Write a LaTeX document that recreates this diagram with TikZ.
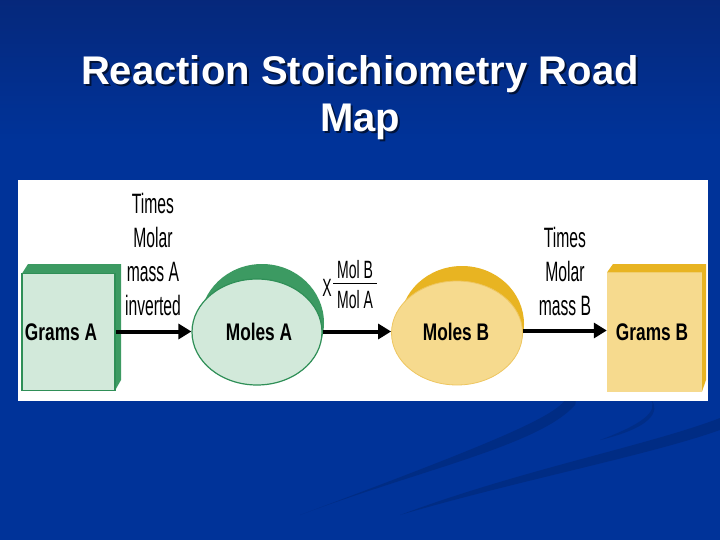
\documentclass[tikz,border=0pt]{standalone}
\usepackage{fontspec}
\setmainfont{Liberation Sans}
\newfontfamily\narrowfont[FakeStretch=0.56]{Liberation Sans}
\newfontfamily\narrowbold[FakeStretch=0.72]{Liberation Sans Bold}
\usetikzlibrary{arrows.meta,shapes.geometric}
\definecolor{bgtop}{HTML}{00081E}
\definecolor{bgmid}{HTML}{082470}
\definecolor{bgbot}{HTML}{003399}
\definecolor{swoosh}{HTML}{00205F}
\definecolor{gdark}{HTML}{3C9A62}
\definecolor{gline}{HTML}{2F8F57}
\definecolor{glight}{HTML}{D2E9DA}
\definecolor{ydark}{HTML}{E8B422}
\definecolor{ylight}{HTML}{F6DA8E}
\definecolor{yline}{HTML}{EEC660}
\pgfdeclareverticalshading{slidebg}{100bp}{color(0bp)=(bgbot); color(62bp)=(bgbot); color(80bp)=(bgmid); color(100bp)=(bgtop)}
\tikzset{
  titletext/.style={font=\bfseries\fontsize{40}{47}\selectfont, align=center, anchor=base},
  steplabel/.style={font=\narrowfont\fontsize{28}{34}\selectfont, align=center, anchor=base, inner sep=0pt},
  fraclabel/.style={font=\narrowfont\fontsize{25}{30}\selectfont, anchor=base, inner sep=0pt},
  boxlabel/.style={font=\narrowbold\fontsize{24}{28}\selectfont, anchor=base, inner sep=0pt},
  conn/.style={line width=4pt, -{Triangle[length=13pt,width=15pt]}},
}
\begin{document}
\begin{tikzpicture}[x=1pt,y=-1pt]
\useasboundingbox (0,0) rectangle (720,540);
\shade[shading=slidebg] (0,0) rectangle (720,540);
% swooshes
\fill[swoosh, opacity=0.35] (300,515) .. controls (420,470) and (540,445) .. (575,405)
  .. controls (578,398) and (572,393) .. (566,392)
  .. controls (575,410) and (500,440) .. (300,515) -- cycle;
\fill[swoosh, opacity=0.35] (400,515) .. controls (520,470) and (650,445) .. (720,418)
  -- (720,430) .. controls (650,455) and (520,480) .. (400,515) -- cycle;
\fill[swoosh, opacity=0.3] (600,440) .. controls (640,425) and (660,412) .. (650,398)
  .. controls (662,412) and (650,428) .. (600,440) -- cycle;
% title (anchor base = baseline of last line)
\node[titletext, text=black, opacity=0.6] at (362,134) {Reaction Stoichiometry Road\\Map};
\node[titletext, text=white] (title) at (360,132) {Reaction Stoichiometry Road\\Map};
% panel
\fill[white] (18,180) rectangle (708,401);
% Grams A box
\fill[gdark] (22,273.5) -- (28,264) -- (121,264) -- (121,380) -- (115,390.5) -- (115,273.5) -- cycle;
\node[draw=gline, line width=1.5pt, fill=glight, minimum width=93pt, minimum height=117pt, inner sep=0pt] (gA) at (68.5,332) {};
% Moles A
\fill[gdark] (262,323) ellipse [x radius=62, y radius=59];
\node[ellipse, draw=gline, line width=1.2pt, fill=glight, minimum width=130pt, minimum height=106pt, inner sep=0pt] (mA) at (257,332) {};
% Moles B
\fill[ydark] (462,324) ellipse [x radius=62, y radius=58];
\node[ellipse, draw=yline, line width=0.8pt, fill=ylight, minimum width=131pt, minimum height=104pt, inner sep=0pt] (mB) at (457,333) {};
% Grams B box
\fill[ydark] (607,272.5) -- (613,264) -- (706,264) -- (706,380) -- (702,391.5) -- (702,272.5) -- cycle;
\node[fill=ylight, minimum width=95pt, minimum height=119pt, inner sep=0pt] (gB) at (654.5,332) {};
% labels in shapes
\node[boxlabel] (lgA) at (61,340) {Grams A};
\node[boxlabel] (lmA) at (259,340) {Moles A};
\node[boxlabel] (lmB) at (456,340) {Moles B};
\node[boxlabel] (lgB) at (652,340) {Grams B};
% arrows
\draw[conn] (gA.east |- 0,331.5) coordinate (a1) -- (mA.west |- a1);
\draw[conn] (mA.east |- 0,331.5) coordinate (a2) -- (mB.west |- a2);
\draw[conn] (mB.east |- 0,330.5) coordinate (a3) -- (gB.west |- a3);
% step labels (anchor base = baseline of last line)
\node[steplabel] (s1) at (153,315) {Times\\Molar\\mass A\\inverted};
\node[steplabel] (s3) at (565,315) {Times\\Molar\\mass B};
\node[fraclabel] (fx) at (327,296) {X};
\node[fraclabel] (fnum) at (355,278) {Mol B};
\node[fraclabel] (fden) at (355,308) {Mol A};
\draw[line width=1.6pt] (333,283.5) -- (377,283.5);
\end{tikzpicture}
\end{document}
